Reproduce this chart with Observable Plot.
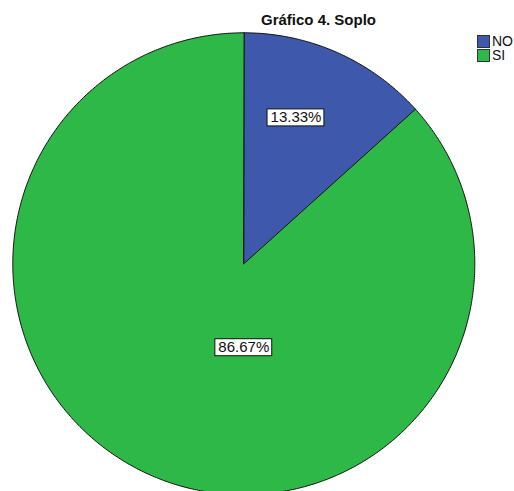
<!DOCTYPE html>
<html>
<head>
<meta charset="utf-8">
<script src="https://cdn.jsdelivr.net/npm/d3@7"></script>
<script src="https://cdn.jsdelivr.net/npm/@observablehq/plot@0.6"></script>
<style>
  html, body { margin: 0; padding: 0; background: #fff; overflow: hidden; }
  #wrap { position: relative; width: 514px; height: 491px; font-family: "Liberation Sans", Arial, sans-serif; }
  #title { position: absolute; top: 12px; left: 318.5px; transform: translateX(-50%); font-weight: bold; font-size: 15px; line-height: 15px; white-space: nowrap; color: #111; }
  .lg-sw { position: absolute; left: 477px; width: 13px; height: 13px; box-sizing: border-box; border: 1px solid #333; }
  .lg-tx { position: absolute; left: 492px; font-size: 14px; line-height: 12px; height: 12px; color: #111; white-space: nowrap; }
  svg { position: absolute; left: 0; top: 0; }
</style>
</head>
<body>
<div id="wrap"></div>
<script>
const title = "Gráfico 4. Soplo";
const categories = ["NO", "SI"];
const percents = [13.33, 86.67];
const labels = ["13.33%", "86.67%"];
const colors = ["#3e58ac", "#2eb848"];

const arcs = d3.pie().sort(null).value(d => d)(percents);

// polygon points for each slice (unit circle, y up, angle clockwise from top)
const slicePts = [];
arcs.forEach((a, i) => {
  const cat = categories[i];
  slicePts.push({cat, x: 0, y: 0});
  const n = Math.max(2, Math.ceil((a.endAngle - a.startAngle) / (Math.PI / 360)));
  for (let k = 0; k <= n; k++) {
    const t = a.startAngle + (a.endAngle - a.startAngle) * k / n;
    slicePts.push({cat, x: Math.sin(t), y: Math.cos(t)});
  }
});

// label anchors: small slices near mid-angle, large slice straight below center
const labelPts = arcs.map((a, i) => {
  const span = a.endAngle - a.startAngle;
  let ang, r;
  if (span < Math.PI) { ang = (a.startAngle + a.endAngle) / 2 - 0.076; r = 0.672; }
  else { ang = Math.PI; r = 0.362; }
  return {cat: categories[i], text: labels[i], x: Math.sin(ang) * r, y: Math.cos(ang) * r};
});

const svg = Plot.plot({
  width: 514,
  height: 491,
  x: {domain: [-1, 1], range: [12.3, 474.3], axis: null},
  y: {domain: [-1, 1], range: [494.3, 32.3], axis: null},
  color: {domain: categories, range: colors},
  style: {background: "transparent", overflow: "visible"},
  marks: [
    Plot.line(slicePts, {x: "x", y: "y", z: "cat", fill: "cat", stroke: "#111", strokeWidth: 1, curve: "linear-closed"}),
    Plot.text(labelPts, {x: "x", y: "y", text: "text", fill: "#111", fontSize: 15, fontFamily: "Liberation Sans, Arial, sans-serif", className: "pielabel"})
  ]
});

const wrap = document.getElementById("wrap");
wrap.appendChild(svg);

// white boxes behind labels
d3.select(svg).selectAll("g.pielabel text").each(function() {
  const b = this.getBBox();
  const g = this.parentNode;
  const rect = document.createElementNS("http://www.w3.org/2000/svg", "rect");
  rect.setAttribute("x", b.x - 3.5);
  rect.setAttribute("y", b.y + 0.5);
  rect.setAttribute("width", b.width + 6);
  rect.setAttribute("height", b.height);
  rect.setAttribute("fill", "#fff");
  rect.setAttribute("stroke", "#111");
  rect.setAttribute("stroke-width", 1);
  const tr = this.getAttribute("transform");
  if (tr) rect.setAttribute("transform", tr);
  g.insertBefore(rect, this);
});

const t = document.createElement("div");
t.id = "title";
t.textContent = title;
wrap.appendChild(t);

categories.forEach((c, i) => {
  const sw = document.createElement("div");
  sw.className = "lg-sw";
  sw.style.top = (35 + i * 14) + "px";
  sw.style.background = colors[i];
  wrap.appendChild(sw);
  const tx = document.createElement("div");
  tx.className = "lg-tx";
  tx.style.top = (34.9 + i * 14.3) + "px";
  tx.textContent = c;
  wrap.appendChild(tx);
});
</script>
</body>
</html>
